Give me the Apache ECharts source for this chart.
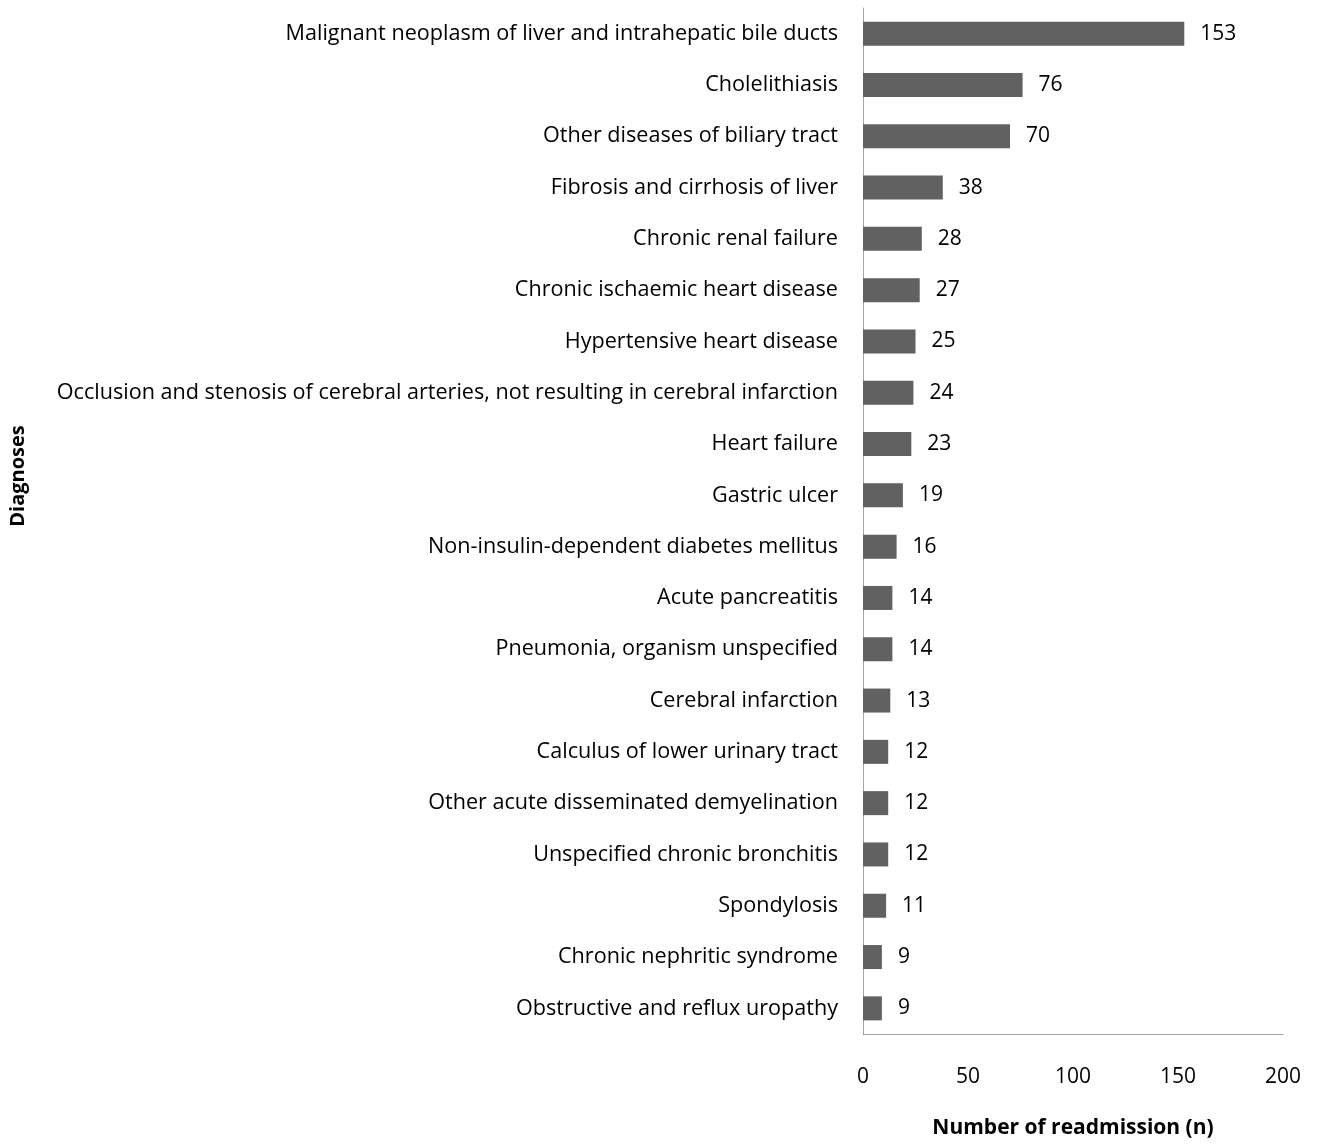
<!DOCTYPE html>
<html>
<head>
<meta charset="utf-8">
<script src="https://cdn.jsdelivr.net/npm/echarts@6/dist/echarts.min.js"></script>
<style>html,body{margin:0;padding:0;background:#fff;}#c{position:absolute;left:0;top:0;width:1317px;height:1144px;}</style>
</head>
<body>
<div id="c"></div>
<script>
var categories = [
  "Malignant neoplasm of liver and intrahepatic bile ducts",
  "Cholelithiasis",
  "Other diseases of biliary tract",
  "Fibrosis and cirrhosis of liver",
  "Chronic renal failure",
  "Chronic ischaemic heart disease",
  "Hypertensive heart disease",
  "Occlusion and stenosis of cerebral arteries, not resulting in cerebral infarction",
  "Heart failure",
  "Gastric ulcer",
  "Non-insulin-dependent diabetes mellitus",
  "Acute pancreatitis",
  "Pneumonia, organism unspecified",
  "Cerebral infarction",
  "Calculus of lower urinary tract",
  "Other acute disseminated demyelination",
  "Unspecified chronic bronchitis",
  "Spondylosis",
  "Chronic nephritic syndrome",
  "Obstructive and reflux uropathy"
];
var readmissions = [153, 76, 70, 38, 28, 27, 25, 24, 23, 19, 16, 14, 14, 13, 12, 12, 12, 11, 9, 9];
var xTicks = [0, 50, 100, 150, 200];

var FONT = '"Open Sans", Lato, sans-serif';
var chart = echarts.init(document.getElementById('c'));
chart.setOption({
  animation: false,
  grid: { left: 863, right: 34, top: 8, bottom: 105, containLabel: false },
  xAxis: {
    type: 'value',
    min: xTicks[0], max: xTicks[xTicks.length - 1], interval: 50,
    name: 'Number of readmission (n)',
    nameLocation: 'middle', nameGap: 84,
    nameTextStyle: { fontFamily: FONT, fontSize: 21, fontWeight: 'bold', color: '#000' },
    axisLine: { show: true, lineStyle: { color: '#a6a6a6', width: 1 } },
    axisTick: { show: false },
    splitLine: { show: false },
    axisLabel: { margin: 33, fontFamily: FONT, fontSize: 21, color: '#000' }
  },
  yAxis: {
    type: 'category',
    inverse: true,
    data: categories,
    axisLine: { show: true, lineStyle: { color: '#a6a6a6', width: 1 } },
    axisTick: { show: false },
    axisLabel: { margin: 25, fontFamily: FONT, fontSize: 21.6, color: '#000' }
  },
  graphic: [{
    type: 'text',
    x: 18, y: 476,
    rotation: Math.PI / 2,
    style: { text: 'Diagnoses', fontFamily: FONT, fontSize: 20, fontWeight: 'bold', fill: '#000', align: 'center', verticalAlign: 'middle' }
  }],
  series: [{
    type: 'bar',
    data: readmissions,
    barWidth: 24,
    itemStyle: { color: '#616161' },
    label: { show: true, position: 'right', distance: 16, fontFamily: FONT, fontSize: 21, color: '#000' }
  }]
});
</script>
</body>
</html>
